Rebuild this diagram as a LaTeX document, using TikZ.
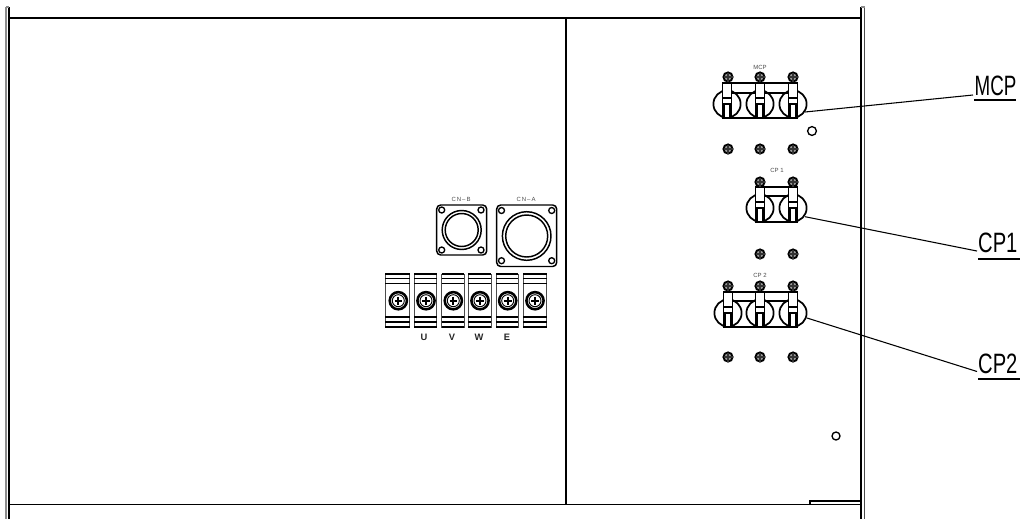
\documentclass[tikz,border=0pt]{standalone}
\usepackage{fontspec}
\setmainfont{Liberation Sans}
\newcommand{\smallscrew}[2]{%
  \draw[screwring] (#1,#2) circle (4.6);
  \draw[line width=.8pt,black!80] (#1-4.5,#2) -- (#1+4.5,#2) (#1,#2-4.5) -- (#1,#2+4.5);
}
\newcommand{\breakerpole}[2]{% x of centre, y of capsule centre
  \draw[polecircle] (#1,#2) circle (13.6);
  \draw[lever,fill=white] (#1-4.5,#2-21) rectangle (#1+4.5,#2+14);
  \draw[line width=.8pt] (#1-4.5,#2-6) -- (#1+4.5,#2-6) (#1-4.5,#2) -- (#1+4.5,#2);
  \draw[line width=1.5pt] (#1-3,#2) -- (#1-3,#2+14) (#1+3,#2) -- (#1+3,#2+14);
}
\tikzset{
  wall/.style={line width=1.5pt,black},
  wallpale/.style={line width=1pt,black!45},
  frameline/.style={line width=1.1pt,black},
  screwring/.style={line width=1.4pt,draw=black,fill=black!40},
  polecircle/.style={line width=1.3pt,draw=black},
  lever/.style={line width=1pt,draw=black},
  leader/.style={line width=.8pt,black},
  tinylabel/.style={font=\fontsize{4.5}{5}\selectfont,text=black!70,inner sep=0pt},
  termlabel/.style={font=\bfseries\fontsize{7}{7}\selectfont,text=black!85,inner sep=0pt},
  callout/.style={font=\fontsize{21}{21}\selectfont,inner sep=0pt,transform shape,anchor=base west},
  plate/.style={line width=1.1pt,draw=black,rounded corners=3pt},
  hole/.style={line width=1pt,draw=black,fill=white},
  ringline/.style={line width=1.1pt,draw=black},
}
\begin{document}
\begin{tikzpicture}[x=0.75pt,y=-0.75pt]
\useasboundingbox (0,0) rectangle (1024,519);
\fill[white] (0,0) rectangle (1024,519);
% cabinet
\draw[wallpale] (6,7) -- (6,519);
\draw[wall] (9,7) -- (9,519);
\draw[wallpale] (6,7) -- (9,7);
\draw[wall] (861,7) -- (861,519);
\draw[line width=.9pt,black!70] (864.5,7) -- (864.5,519);
\draw[wallpale] (861,7) -- (864.5,7);
\draw[frameline] (9,18) -- (861,18);
\draw[frameline] (9,504.5) -- (861,504.5);
\draw[frameline] (566,18) -- (566,504.5);
\draw[line width=.8pt] (810,504.5) -- (810,501) -- (861,501);
% small holes
\draw[line width=1pt] (812,131) circle (4.4);
\draw[line width=1pt] (836,436) circle (4);
% connectors CN-B
\draw[plate] (436.7,205) rectangle (486.7,255);
\foreach \hx/\hy in {441.7/210,481/210,441.7/250,481/250} \draw[hole] (\hx,\hy) circle (3);
\draw[ringline] (461.7,230) circle (19.5);
\draw[ringline] (461.7,230) circle (16.5);
\node[tinylabel] (cnb) at (461,199) {C\,N\,--\,B};
% connectors CN-A
\draw[plate] (496.7,205) rectangle (556.7,266.5);
\foreach \hx/\hy in {501.5/210.5,551.7/210.5,501.5/260.7,551.7/260.7} \draw[hole] (\hx,\hy) circle (3);
\draw[ringline] (526.7,236) circle (24.3);
\draw[ringline] (526.7,236) circle (21);
\node[tinylabel] (cna) at (526,199) {C\,N\,--\,A};
% terminal block
\foreach \ta/\tb in {385/409.5,414/436.7,441.7/464,468/491,496/518,523/546.7}{
  \draw[line width=.5pt,black!70] (\ta,274) rectangle (\tb,327);
  \draw[line width=1.5pt] (\ta,274) -- (\tb,274) (\ta,327) -- (\tb,327);
  \draw[line width=.9pt] (\ta,278.5) -- (\tb,278.5) (\ta,283.5) -- (\tb,283.5) (\ta,317) -- (\tb,317);
  \draw[line width=1.3pt] (\ta,322) -- (\tb,322);
}
\foreach \sx in {398.3,426,453.3,480,507.7,535}{
  \draw[line width=1.9pt] (\sx,300.7) circle (8.6);
  \draw[line width=.7pt] (\sx,300.7) circle (6);
  \draw[line width=1.3pt] (\sx-3.8,300.7) -- (\sx+3.8,300.7) (\sx,296.9) -- (\sx,304.5);
}
\node[termlabel] (tu) at (424,337) {U};
\node[termlabel] (tv) at (452,337) {V};
\node[termlabel] (tw) at (479,337) {W};
\node[termlabel] (te) at (507,337) {E};
% MCP
\draw[line width=1pt] (727,83) -- (793,83) (727,93) -- (793,93) (727,118) -- (793,118);
\breakerpole{727}{104}\breakerpole{760}{104}\breakerpole{793}{104}
\foreach \sx in {728,760,793}{\smallscrew{\sx}{77}\smallscrew{\sx}{149}}
\node[tinylabel] (lmcp) at (760,67) {MCP};
% CP1
\draw[line width=1pt] (760,187) -- (793,187) (760,196) -- (793,196) (760,222) -- (793,222);
\breakerpole{760}{208}\breakerpole{793}{208}
\foreach \sx in {760,793}{\smallscrew{\sx}{182}\smallscrew{\sx}{254}}
\node[tinylabel] (lcpa) at (777,170) {CP 1};
% CP2
\draw[line width=1pt] (728,292) -- (793,292) (728,301) -- (793,301) (728,327) -- (793,327);
\breakerpole{728}{313}\breakerpole{760}{313}\breakerpole{793}{313}
\foreach \sx in {728,760,793}{\smallscrew{\sx}{286}\smallscrew{\sx}{357}}
\node[tinylabel] (lcpb) at (760,275) {CP 2};
% callouts
\node[callout,xscale=.67] (tmcp) at (974.5,95) {MCP};
\node[callout,xscale=.72] (tcpa) at (978,252.5) {CP1};
\node[callout,xscale=.72] (tcpb) at (978,373.5) {CP2};
\coordinate (amcp) at (805,112);
\coordinate (bmcp) at (973,95);
\coordinate (smcp) at (974,100);
\coordinate (emcp) at (1016,100);
\coordinate (acpa) at (805,216.7);
\coordinate (bcpa) at (977,251);
\coordinate (scpa) at (978,259);
\coordinate (ecpa) at (1020,259);
\coordinate (acpb) at (807,318);
\coordinate (bcpb) at (977,371.5);
\coordinate (scpb) at (978,379);
\coordinate (ecpb) at (1020,379);
\draw[leader] (amcp) -- (bmcp);
\draw[leader] (acpa) -- (bcpa);
\draw[leader] (acpb) -- (bcpb);
\draw[line width=1.5pt] (smcp) -- (emcp);
\draw[line width=1.5pt] (scpa) -- (ecpa);
\draw[line width=1.5pt] (scpb) -- (ecpb);
\end{tikzpicture}
\end{document}
